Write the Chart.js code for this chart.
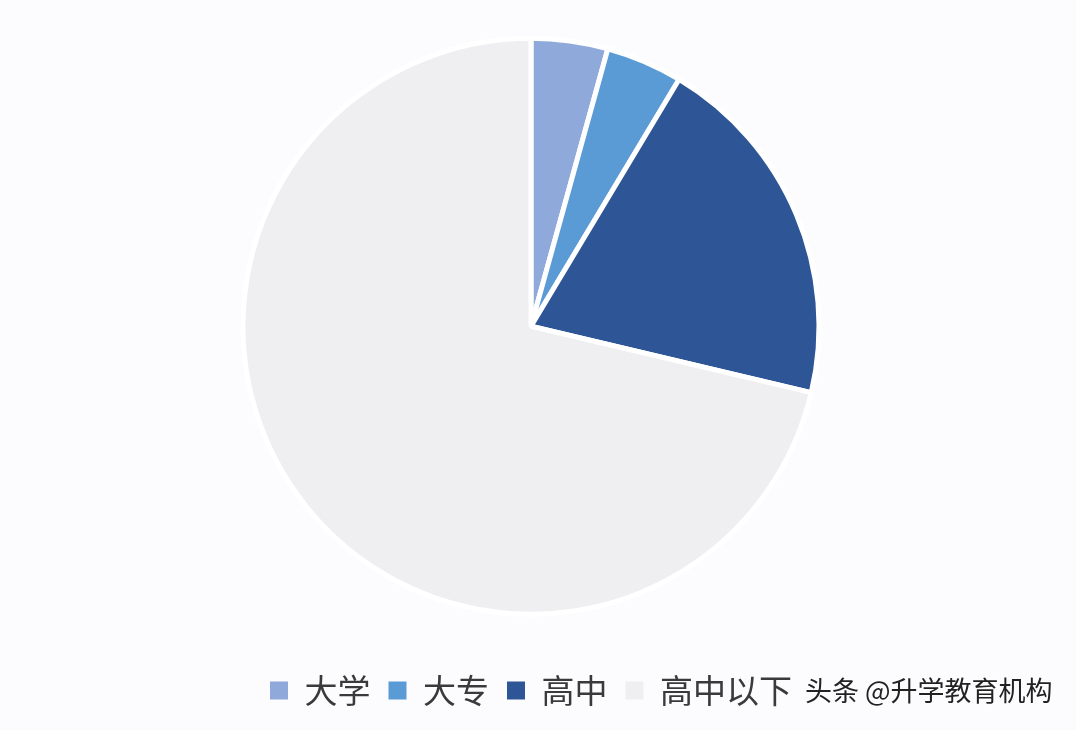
<!DOCTYPE html>
<html>
<head>
<meta charset="utf-8">
<script src="https://cdn.jsdelivr.net/npm/chart.js@4.4.0/dist/chart.umd.min.js"></script>
<style>
  html, body { margin: 0; padding: 0; background: #fcfbfe; }
  #wrap { position: relative; width: 1076px; height: 730px; }
  #mark {
    position: absolute; left: 805px; top: 670px;
    font-family: "Noto Sans CJK SC", sans-serif; font-size: 27px;
    color: #222; text-shadow: 0 0 2px #fff, 0 0 2px #fff;
  }
</style>
</head>
<body>
<div id="wrap">
  <canvas id="myGrafico" width="1076" height="730"></canvas>
  <div id="mark">头条 @升学教育机构</div>
</div>
<script>
var categorias = ["大学", "大专", "高中", "高中以下"];
var valores = [4.3, 4.3, 20.1, 71.3];
var cores = ["#8fa9da", "#5b9bd5", "#2e5596", "#efeff2"];

var geraLabels = Chart.overrides.pie.plugins.legend.labels.generateLabels;

var ctx = document.getElementById('myGrafico').getContext('2d');
var chart = new Chart(ctx, {
    type: 'pie',
    data: {
        labels: categorias,
        datasets: [{
            data: valores,
            backgroundColor: cores,
            borderColor: "#ffffff",
            borderWidth: 5,
            radius: 288
        }]
    },
    options: {
        responsive: false,
        animation: false,
        layout: { padding: { top: 36, bottom: 13, left: 2, right: 16 } },
        plugins: {
            tooltip: { enabled: false },
            legend: {
                position: 'bottom',
                title: { display: true, text: ' ', font: { size: 12 }, padding: { top: 25, bottom: 0 } },
                labels: {
                    boxWidth: 18,
                    boxHeight: 18,
                    padding: 18,
                    color: "#3a3a3a",
                    font: { family: "'Noto Sans CJK SC', sans-serif", size: 33 },
                    generateLabels: function(c) {
                        var items = geraLabels(c);
                        items.forEach(function(it) { it.lineWidth = 0; });
                        return items;
                    }
                }
            }
        }
    }
});
</script>
</body>
</html>
